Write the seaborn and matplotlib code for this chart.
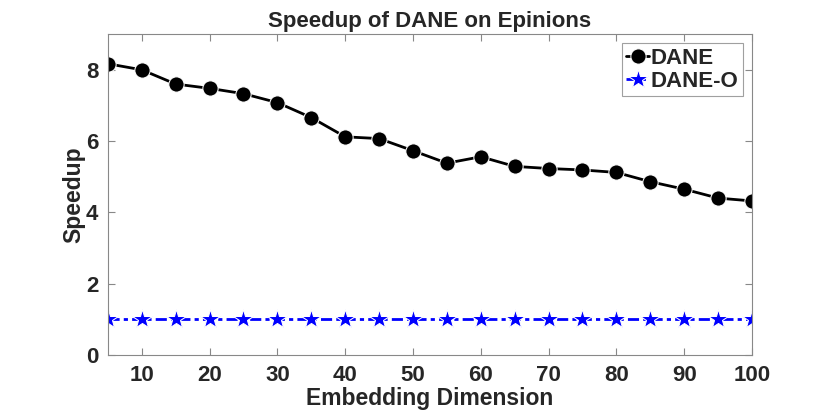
import numpy as np
import pandas as pd
import matplotlib
matplotlib.use("Agg")
import matplotlib.pyplot as plt
import seaborn as sns

dims = [5, 10, 15, 20, 25, 30, 35, 40, 45, 50, 55, 60, 65, 70, 75, 80, 85, 90, 95, 100]
dane = [8.17, 8.0, 7.6, 7.48, 7.33, 7.08, 6.66, 6.12, 6.07, 5.73,
        5.38, 5.56, 5.29, 5.23, 5.19, 5.12, 4.86, 4.65, 4.40, 4.32]
dane_o = [1.0] * len(dims)

sns.set_style("white")
plt.rcParams['font.family'] = ['Liberation Sans', 'DejaVu Sans']
plt.rcParams['font.weight'] = 'bold'

fig = plt.figure(figsize=(8.3, 4.17), dpi=100)
ax = fig.add_axes([0.130, 0.149, 0.776, 0.769])

sns.lineplot(x=dims, y=dane, ax=ax, color="black", linewidth=2, marker="o",
             markersize=11, label="DANE")
sns.lineplot(x=dims, y=dane_o, ax=ax, color="blue", linewidth=2,
             dashes=False, marker="*", markersize=15, label="DANE-O")
ax.lines[1].set_linestyle((0, (4, 1.5, 1.5, 1.5)))

ax.set_xlim(5, 100)
ax.set_ylim(0, 9)
ax.set_xticks(np.arange(10, 101, 10))
ax.set_yticks([0, 2, 4, 6, 8])
ax.tick_params(labelsize=16, direction="in", length=5, color="#888888", pad=7,
               top=True, right=True, bottom=True, left=True)
for lab in ax.get_xticklabels() + ax.get_yticklabels():
    lab.set_fontweight("bold")
    lab.set_color("#262626")
for s in ax.spines.values():
    s.set_color("#888888")
    s.set_linewidth(0.8)

ax.set_xlabel("Embedding Dimension", fontsize=16.5, fontweight="bold", color="#262626", labelpad=1)
ax.set_ylabel("Speedup", fontsize=16.5, fontweight="bold", color="#262626", labelpad=0)
ax.set_title("Speedup of DANE on Epinions", fontsize=16, fontweight="bold", pad=5)

leg = ax.legend(loc="upper right", fontsize=16, handlelength=1.0, handletextpad=0.1,
                borderpad=0.2, labelspacing=0.1, frameon=True, fancybox=False,
                borderaxespad=0.4)
leg.get_frame().set_edgecolor("#888888")
leg.get_frame().set_linewidth(0.8)
for t in leg.get_texts():
    t.set_fontweight("bold")

fig.savefig("out.png", dpi=100)
